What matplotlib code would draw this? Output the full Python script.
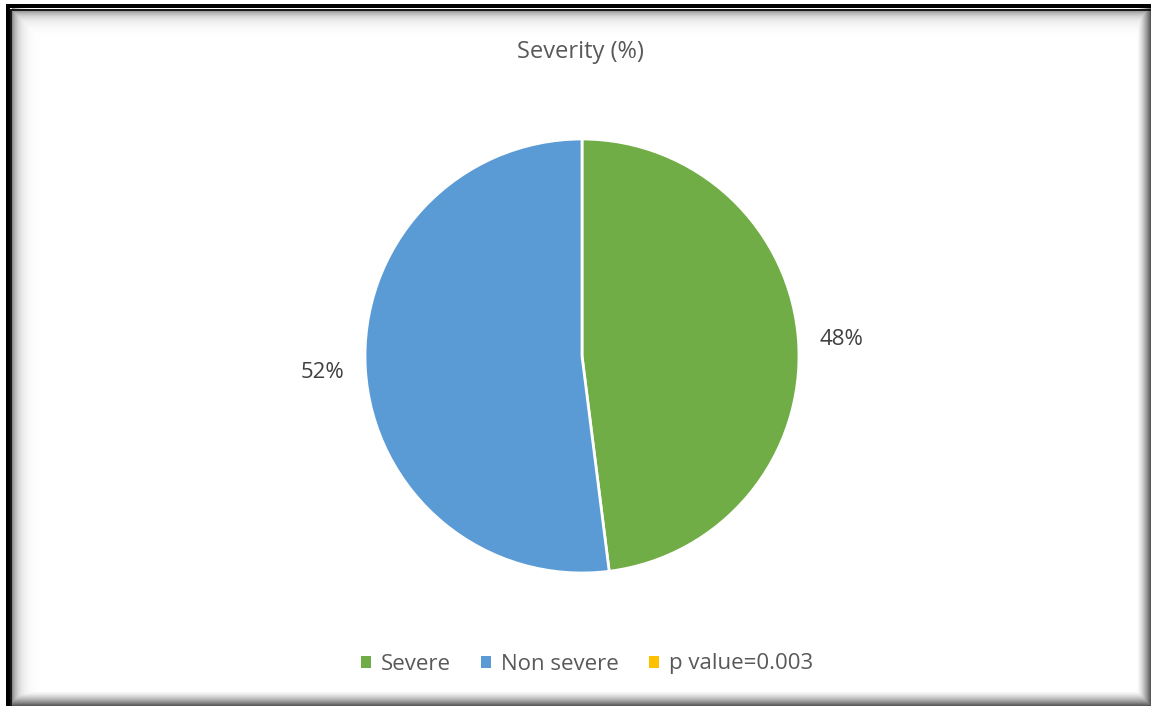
import numpy as np
import matplotlib.pyplot as plt
from matplotlib.patches import Patch

plt.rcParams['font.family'] = ['Open Sans', 'DejaVu Sans']

# Data
categories = ['Severe', 'Non severe']
shares = [48, 52]
colors = ['#70AD47', '#5B9BD5']
note_label = 'p value=0.003'
note_color = '#FFC000'
title = 'Severity (%)'

W, H = 1151, 706
fig = plt.figure(figsize=(W / 100, H / 100), dpi=100)

# Frame with shadow (drawn as a background image)
bg = np.ones((H, W))
xs = np.arange(W)
ys = np.arange(H)
inner_x = np.clip(1 - 0.45 * np.exp(-(xs - 12) / 6.0), 0, 1)
inner_x[xs < 12] = 1
inner_y = np.clip(1 - 0.45 * np.exp(-(ys - 10) / 6.0), 0, 1)
inner_y[ys < 10] = 1
bg = np.minimum(bg, inner_x[None, :])
bg = np.minimum(bg, inner_y[:, None])
right = np.where(xs > 1136, 1 - 0.65 * ((xs - 1136) / 14.0) ** 1.5, 1)
bottom = np.where(ys > 690, 1 - 0.65 * ((ys - 690) / 15.0) ** 1.5, 1)
bg = np.minimum(bg, right[None, :])
bg = np.minimum(bg, bottom[:, None])
bg[4:8, 6:] = 0
bg[9:11, 10:] = 0.1
bg[4:, 6:10] = 0
bg[9:, 10:12] = 0.1
bg[:4, :] = 1
bg[:, :6] = 1
bg_ax = fig.add_axes([0, 0, 1, 1])
bg_ax.imshow(bg, cmap='gray', vmin=0, vmax=1, aspect='auto', interpolation='nearest')
bg_ax.axis('off')

# Pie
cx, cy, r = 582, 356, 217
ax = fig.add_axes([(cx - r) / W, (H - cy - r) / H, 2 * r / W, 2 * r / H])
wedges, _, autotexts = ax.pie(shares, colors=colors, startangle=90, counterclock=False,
                              autopct='%.0f%%', pctdistance=1.2,
                              wedgeprops=dict(edgecolor='white', linewidth=2))
for t in autotexts:
    t.set_fontsize(16)
    t.set_color('#404040')
ax.set_xlim(-1, 1)
ax.set_ylim(-1, 1)

fig.text(580 / W, 1 - 52 / H, title, ha='center', va='center', fontsize=17, color='#595959')

handles = [Patch(facecolor=c, label=l) for c, l in zip(colors, categories)]
handles.append(Patch(facecolor=note_color, label=note_label))
fig.legend(handles=handles, loc='center', bbox_to_anchor=(587 / W, 1 - 664 / H), ncol=3,
           frameon=False, fontsize=16, handlelength=0.45, handleheight=0.45,
           handletextpad=0.45, columnspacing=1.35, labelcolor='#595959')

fig.savefig('out.png', dpi=100)
